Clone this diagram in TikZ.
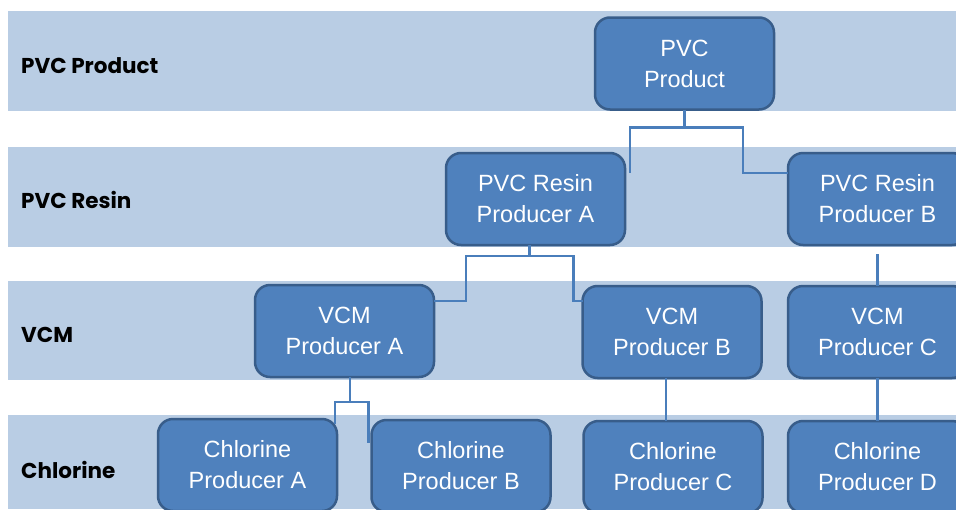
\documentclass[tikz,border=0pt]{standalone}
\usepackage{fontspec}
\setmainfont{Liberation Sans}
\newfontfamily\labfont{Poppins}
\usetikzlibrary{calc}
\definecolor{bandc}{RGB}{185,205,228}
\definecolor{boxfill}{RGB}{79,129,189}
\definecolor{boxline}{RGB}{56,93,138}
\definecolor{connc}{RGB}{74,126,187}
\tikzset{
  stage/.style={draw=boxline, line width=2.5pt, fill=boxfill, rounded corners=15pt,
    minimum width=179pt, minimum height=92pt, inner sep=0pt, outer sep=0pt,
    align=center, text=white, font=\fontsize{23.5}{31}\selectfont},
  conn/.style={draw=connc, line width=2.7pt},
  tier/.style={anchor=west, inner sep=0pt, text=black,
    font=\labfont\bfseries\fontsize{21.5}{25}\selectfont}
}
\begin{document}
\begin{tikzpicture}[x=1pt,y=-1pt]
\useasboundingbox (0,0) rectangle (956,509);
\clip (0,0) rectangle (956,509);
% bands
\fill[bandc] (8,11) rectangle (956,111);
\fill[bandc] (8,147) rectangle (956,247);
\fill[bandc] (8,281) rectangle (956,380);
\fill[bandc] (8,415) rectangle (956,509);
% tier labels
\node[tier] (l1) at (21,66) {PVC Product};
\node[tier] (l2) at (21,200) {PVC Resin};
\node[tier] (l3) at (21,335) {VCM};
\node[tier] (l4) at (21,470) {Chlorine};
% nodes
\node[stage] (prod) at (684.5,63.5) {PVC\\Product};
\node[stage] (resA) at (535.5,199) {PVC Resin\\Producer A};
\node[stage] (resB) at (877.5,199) {PVC Resin\\Producer B};
\node[stage] (vcmA) at (344.5,331) {VCM\\Producer A};
\node[stage] (vcmB) at (672,332) {VCM\\Producer B};
\node[stage] (vcmC) at (877.5,332) {VCM\\Producer C};
\node[stage] (chlA) at (247.5,465) {Chlorine\\Producer A};
\node[stage] (chlB) at (461,466) {Chlorine\\Producer B};
\node[stage] (chlC) at (673,467) {Chlorine\\Producer C};
\node[stage] (chlD) at (877.5,467) {Chlorine\\Producer D};
% connectors
\coordinate (prodhub) at ($(prod.south)+(0,18)$);
\draw[conn] (prod.south) -- (prodhub) -| ($(resA.north east)+(5,20)$);
\draw[conn] (prodhub) -| ($(resB.north west)+(-45,20)$) -- ($(resB.north west)+(0,20)$);
\coordinate (resAtop) at ($(resA.south)+(-6,0)$);
\coordinate (resAhub) at ($(resA.south)+(-6,11)$);
\draw[conn] (resAtop) -- (resAhub) -| ($(vcmA.east)+(32,-30)$) -- ($(vcmA.east)+(0,-30)$);
\draw[conn] (resAhub) -| ($(vcmB.west)+(-9,-31)$) -- ($(vcmB.west)+(0,-31)$);
\draw[conn] ($(resB.south)+(0,9)$) -- (vcmC.north);
\coordinate (vcmAtop) at ($(vcmA.south)+(5.5,0)$);
\coordinate (vcmAhub) at ($(vcmA.south)+(5.5,25)$);
\draw[conn] (vcmAtop) -- (vcmAhub) -| ($(chlA.north east)+(-2,5)$);
\draw[conn] (vcmAhub) -| ($(chlB.north west)+(-3,23)$);
\coordinate (vcmBbot) at ($(vcmB.south)+(-6,0)$);
\draw[conn] (vcmBbot) -- (vcmBbot |- chlC.north);
\draw[conn] (vcmC.south) -- (chlD.north);
\end{tikzpicture}
\end{document}
